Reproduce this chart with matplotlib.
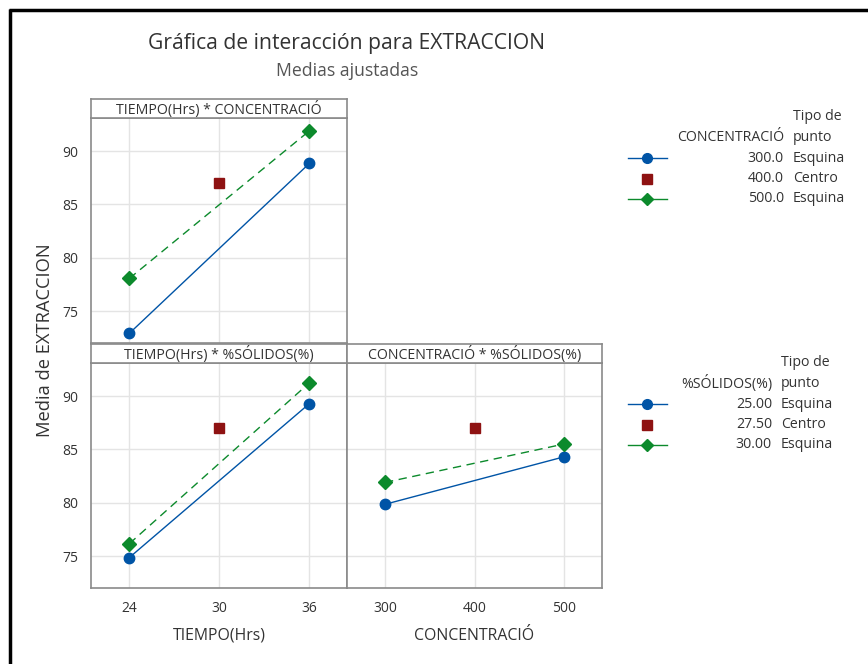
import matplotlib
matplotlib.use("Agg")
import matplotlib.pyplot as plt
from matplotlib.lines import Line2D

plt.rcParams['font.family'] = ['Open Sans', 'DejaVu Sans']

# ---- data -------------------------------------------------------------
tiempo_levels = [24, 36]
tiempo_center = 30
conc_levels = [300, 500]
conc_center = 400
center_mean = 87.0

# TIEMPO(Hrs) * CONCENTRACIÓ  (lines: CONCENTRACIÓ 300 / 500)
tc_conc300 = [72.9, 88.85]
tc_conc500 = [78.05, 91.9]

# TIEMPO(Hrs) * %SÓLIDOS(%)  (lines: %SÓLIDOS 25 / 30)
ts_sol25 = [74.85, 89.3]
ts_sol30 = [76.15, 91.25]

# CONCENTRACIÓ * %SÓLIDOS(%)  (lines: %SÓLIDOS 25 / 30)
cs_sol25 = [79.85, 84.3]
cs_sol30 = [81.9, 85.5]

legend_conc = ["300.0", "400.0", "500.0"]
legend_sol = ["25.00", "27.50", "30.00"]
legend_tipo = ["Esquina", "Centro", "Esquina"]

y_ticks = [75, 80, 85, 90]

# ---- style -------------------------------------------------------------
W, H = 868, 664
BLUE = "#0054a6"
RED = "#8e1212"
GREEN = "#0c8a2c"
FRAME = "#8a8a8a"
GRID = "#e4e4e4"
TXT = "#333333"

fig = plt.figure(figsize=(W / 100, H / 100), dpi=100)


def box(x0, y0, x1, y1):
    return [x0 / W, 1 - y1 / H, (x1 - x0) / W, (y1 - y0) / H]


def style_panel(ax, xlim, xticks, show_x, show_y):
    ax.set_xlim(*xlim)
    ax.set_ylim(72.0, 93.1)
    ax.set_xticks(xticks)
    ax.set_yticks(y_ticks)
    ax.grid(True, color=GRID, lw=1.0)
    ax.set_axisbelow(True)
    for s in ax.spines.values():
        s.set_color(FRAME)
        s.set_linewidth(1.2)
    ax.tick_params(length=0, pad=9, labelsize=10, labelcolor=TXT,
                   labelbottom=show_x, labelleft=show_y)


def strip(x0, y0, x1, y1, label):
    sax = fig.add_axes(box(x0, y0, x1, y1))
    sax.set_xticks([])
    sax.set_yticks([])
    for s in sax.spines.values():
        s.set_color(FRAME)
        s.set_linewidth(1.2)
    sax.text(0.5, 0.45, label, ha="center", va="center", fontsize=10.2,
             color=TXT, transform=sax.transAxes)


def draw_interaction(ax, x, low, high, xc):
    ax.plot(x, low, color=BLUE, lw=1.0, marker="o", ms=7.5, zorder=3)
    ax.plot(x, high, color=GREEN, lw=1.0, ls=(0, (6, 4)), marker="D",
            ms=7, zorder=3)
    ax.plot([xc], [center_mean], ls="none", marker="s", ms=7.5, color=RED,
            zorder=3)


t_lim = (21.45, 38.5)
c_lim = (257.5, 542.5)
t_ticks = [24, 30, 36]
c_ticks = [300, 400, 500]

# top-left panel
ax1 = fig.add_axes(box(91, 118, 347, 343))
style_panel(ax1, t_lim, t_ticks, False, True)
draw_interaction(ax1, tiempo_levels, tc_conc300, tc_conc500, tiempo_center)
strip(91, 99, 347, 118, "TIEMPO(Hrs) * CONCENTRACIÓ")

# bottom-left panel
ax2 = fig.add_axes(box(91, 363, 347, 588))
style_panel(ax2, t_lim, t_ticks, True, True)
draw_interaction(ax2, tiempo_levels, ts_sol25, ts_sol30, tiempo_center)
strip(91, 344, 347, 363, "TIEMPO(Hrs) * %SÓLIDOS(%)")
ax2.set_xlabel("TIEMPO(Hrs)", fontsize=11.4, color=TXT, labelpad=9)

# bottom-right panel
ax3 = fig.add_axes(box(347, 363, 602, 588))
style_panel(ax3, c_lim, c_ticks, True, False)
draw_interaction(ax3, conc_levels, cs_sol25, cs_sol30, conc_center)
strip(347, 344, 602, 363, "CONCENTRACIÓ * %SÓLIDOS(%)")
ax3.set_xlabel("CONCENTRACIÓ", fontsize=11.4, color=TXT, labelpad=9)

# titles and common y label
fig.text(347 / W, 1 - 44 / H, "Gráfica de interacción para EXTRACCION",
         ha="center", va="center", fontsize=15.2, color=TXT)
fig.text(347 / W, 1 - 71 / H, "Medias ajustadas", ha="center", va="center",
         fontsize=12.7, color="#555555")
fig.text(45 / W, 1 - 340 / H, "Media de EXTRACCION", rotation=90,
         ha="center", va="center", fontsize=13.2, color=TXT)


# legends
def legend_block(y_top, x_right, header, values):
    fs = 10.2
    step = 20.5
    fig.text((x_right + 9) / W, 1 - y_top / H, "Tipo de", ha="left",
             va="center", fontsize=fs, color=TXT)
    fig.text(x_right / W, 1 - (y_top + step) / H, header, ha="right",
             va="center", fontsize=fs, color=TXT)
    fig.text((x_right + 9) / W, 1 - (y_top + step) / H, "punto", ha="left",
             va="center", fontsize=fs, color=TXT)
    specs = [
        dict(color=BLUE, lw=1.0, marker="o", ms=7),
        dict(color=RED, lw=0, marker="s", ms=7),
        dict(color=GREEN, lw=1.0, marker="D", ms=6.5),
    ]
    for i, (val, tipo, sp) in enumerate(zip(values, legend_tipo, specs)):
        yy = 1 - (y_top + step * (i + 2)) / H
        if sp["lw"] > 0:
            fig.add_artist(Line2D([628 / W, 667 / W], [yy, yy],
                                  color=sp["color"], lw=sp["lw"]))
        fig.add_artist(Line2D([647 / W], [yy], ls="none", marker=sp["marker"],
                              ms=sp["ms"], color=sp["color"]))
        fig.text(x_right / W, yy, val, ha="right", va="center", fontsize=fs,
                 color=TXT)
        fig.text((x_right + 9) / W, yy, tipo, ha="left", va="center",
                 fontsize=fs, color=TXT)


legend_block(117, 784, "CONCENTRACIÓ", legend_conc)
legend_block(363, 772, "%SÓLIDOS(%)", legend_sol)

# outer frame lines (top and left)
fig.add_artist(Line2D([9 / W, 1], [1 - 10 / H, 1 - 10 / H], color="black",
                      lw=2.5, solid_capstyle="butt"))
fig.add_artist(Line2D([10 / W, 10 / W], [0, 1 - 9 / H], color="black",
                      lw=2.5, solid_capstyle="butt"))

fig.savefig("out.png", dpi=100)
